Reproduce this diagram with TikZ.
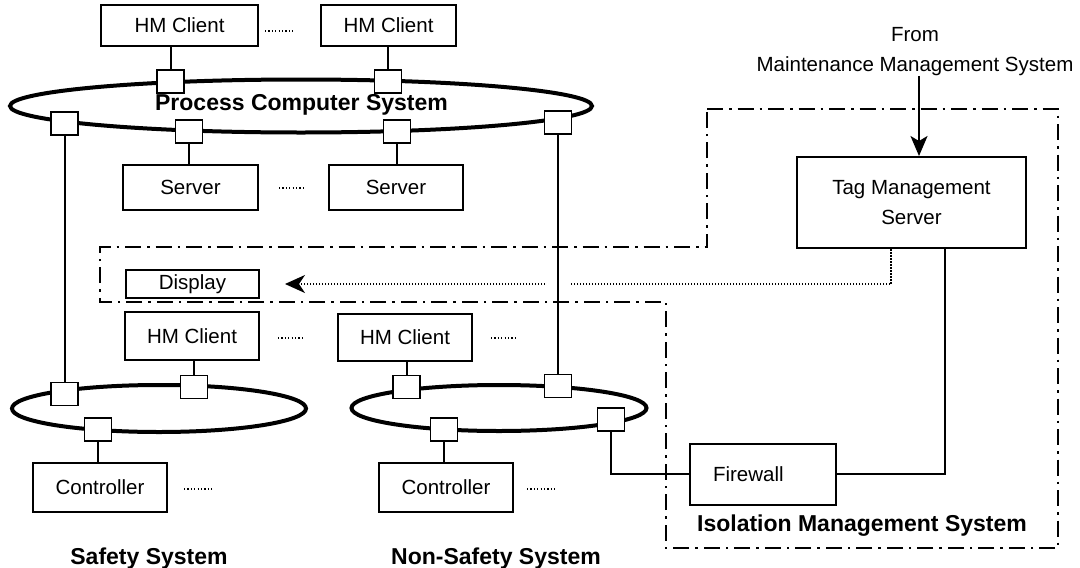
\documentclass[tikz,border=0pt]{standalone}
\usepackage{fontspec}
\setmainfont{Liberation Sans}
\usetikzlibrary{shapes.geometric,arrows.meta}
\begin{document}
\begin{tikzpicture}[x=1pt,y=-1pt,
  box/.style={draw, line width=2pt, inner sep=0pt, font=\fontsize{20.5}{30}\selectfont},
  port/.style={draw, fill=white, line width=1.8pt, minimum width=27pt, minimum height=23pt, inner sep=0pt},
  ring/.style={draw, ellipse, line width=4pt, inner sep=0pt},
  title/.style={font=\fontsize{23}{27}\selectfont\bfseries, inner sep=0pt},
  plain/.style={font=\fontsize{20.5}{30}\selectfont, inner sep=0pt},
  link/.style={line width=2pt},
  isol/.style={line width=2pt, dash pattern=on 16pt off 6pt on 2.5pt off 6pt},
  ddots/.style={line width=1.5pt, dash pattern=on 1.2pt off 2.2pt},
  dotline/.style={line width=1.6pt, dash pattern=on 1.5pt off 1.5pt}
]
\useasboundingbox (0,0) rectangle (1080,568);

% rings
\node[ring, minimum width=582pt, minimum height=53pt] (pcs) at (301,106) {};
\node[ring, minimum width=294pt, minimum height=47pt] (sring) at (159,408.5) {};
\node[ring, minimum width=295pt, minimum height=46pt] (nring) at (499,408) {};

% boxes
\node[box, minimum width=157pt, minimum height=41pt] (hmA) at (179.5,25.5) {HM Client};
\node[box, minimum width=135pt, minimum height=41pt] (hmB) at (388.5,25.5) {HM Client};
\node[box, minimum width=135pt, minimum height=45pt] (srvA) at (190.5,187.5) {Server};
\node[box, minimum width=134pt, minimum height=45pt] (srvB) at (396,187.5) {Server};
\node[box, minimum width=229pt, minimum height=91pt, align=center] (tag) at (911.5,202.5) {Tag Management\\Server};
\node[box, minimum width=133pt, minimum height=28pt] (disp) at (192.5,284) {Display};
\node[box, minimum width=134pt, minimum height=48pt] (shm) at (192,336) {HM Client};
\node[box, minimum width=134pt, minimum height=47pt] (nhm) at (405,337.5) {HM Client};
\node[box, minimum width=134pt, minimum height=49pt] (sctl) at (100,487.5) {Controller};
\node[box, minimum width=134pt, minimum height=49pt] (nctl) at (446,487.5) {Controller};
\node[box, minimum width=146pt, minimum height=61pt, text width=100pt, align=left] (fw) at (763,474) {Firewall};

% texts
\node[plain, align=center] (from) at (915,51.5) {From\\Maintenance Management System};
\node[title] (tpcs) at (301.5,105) {Process Computer System};
\node[title] (tss) at (149,559) {Safety System};
\node[title] (tns) at (496,559) {Non-Safety System};
\node[title] (tims) at (862,526) {Isolation Management System};

% isolation management boundary
\draw[isol] (707,109) -- (1058,109) -- (1058,548) -- (666,548) -- (666,302)
  -- (100,302) -- (100,247) -- (707,247) -- cycle;

% ports
\node[port] (pA) at (170.5,81.5) {};
\node[port] (pB) at (388,81.5) {};
\node[port] (pL) at (64.5,123.5) {};
\node[port] (pS1) at (189,131.5) {};
\node[port] (pS2) at (397,131.5) {};
\node[port] (pR) at (558,122.5) {};
\node[port] (sT) at (194,387) {};
\node[port] (sL) at (64.5,394) {};
\node[port] (sB) at (98,429.5) {};
\node[port] (nT) at (406.5,387) {};
\node[port] (nR) at (558,386) {};
\node[port] (nB) at (444,429.5) {};
\node[port] (nF) at (611,419.5) {};

% dotted arrow to display
\draw[dotline, -{Stealth[length=20pt,width=18pt,inset=6pt]}]
  ([xshift=-20.5pt]tag.south) |- ([xshift=25pt]disp.east);
\fill[white] (545,279) rectangle (571,290);

% connectors
\draw[link] (pA.north) -- (pA.north |- hmA.south);
\draw[link] (pB.north) -- (pB.north |- hmB.south);
\draw[link] (pS1.south) -- (pS1.south |- srvA.north);
\draw[link] (pS2.south) -- (pS2.south |- srvB.north);
\draw[link] (pL.south) -- (sL.north);
\draw[link] (pR.south) -- (nR.north);
\draw[link] (sT.north) -- (sT.north |- shm.south);
\draw[link] (nT.north) -- (nT.north |- nhm.south);
\draw[link] (sB.south) -- (sB.south |- sctl.north);
\draw[link] (nB.south) -- (nB.south |- nctl.north);
\draw[link] (nF.south) |- (fw.west);
\draw[link] ([xshift=33.5pt]tag.south) |- (fw.east);
\draw[link, -{Stealth[length=20pt,width=17pt,inset=5pt]}] ([xshift=4pt]from.south) -- ([xshift=7.5pt]tag.north);

% ellipsis dots
\draw[ddots] (265,31) -- (293,31);
\draw[ddots] (279,188) -- (306,188);
\draw[ddots] (278,338) -- (305,338);
\draw[ddots] (491,338) -- (518,338);
\draw[ddots] (184,489) -- (212,489);
\draw[ddots] (527,489) -- (555,489);
\end{tikzpicture}
\end{document}
